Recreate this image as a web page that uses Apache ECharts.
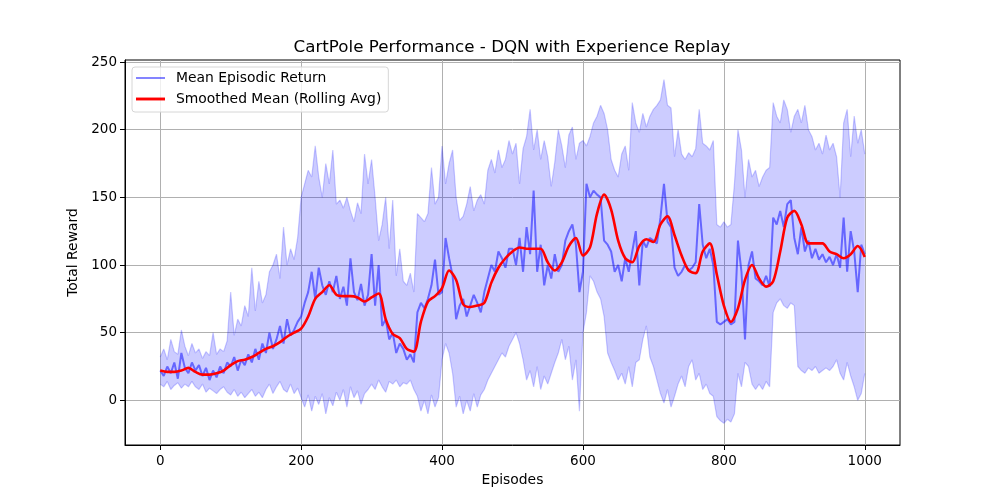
<!DOCTYPE html>
<html>
<head>
<meta charset="utf-8">
<script src="https://cdn.jsdelivr.net/npm/echarts@6.0.0/dist/echarts.min.js"></script>
<style>
  html, body { margin: 0; padding: 0; background: #fff; }
  #chart { width: 1000px; height: 500px; }
</style>
</head>
<body>
<div id="chart"></div>
<script>
// episodes sampled every 5 for the raw mean and band, every 10 for the rolling average
var BAND_STEP = 5;
var SMOOTH_STEP = 10;

var bandUpper = [
    32, 38, 30, 45, 36, 34, 52, 40, 33, 42,
    35, 38, 31, 36, 33, 50, 34, 38, 36, 44,
    80, 48, 60, 55, 70, 62, 98, 66, 88, 72,
    78, 95, 100, 108, 90, 128, 100, 112, 104, 120,
    150, 160, 170, 165, 188, 165, 150, 175, 160, 185,
    145, 148, 142, 150, 140, 132, 146, 138, 182, 160,
    178, 150, 118, 130, 150, 112, 148, 92, 112, 88,
    85, 94, 80, 138, 135, 132, 138, 172, 145, 150,
    188, 160, 175, 185, 150, 133, 136, 145, 158, 140,
    148, 152, 145, 170, 178, 168, 185, 172, 178, 192,
    182, 190, 160, 186, 195, 215, 185, 200, 178, 192,
    180, 158, 176, 200, 188, 172, 196, 202, 178, 190,
    192, 188, 195, 205, 210, 218, 212, 200, 178, 170,
    165, 182, 188, 170, 220, 205, 198, 212, 202, 210,
    215, 218, 222, 237, 218, 216, 180, 200, 182, 178,
    183, 180, 186, 215, 190, 188, 185, 192, 130, 128,
    132, 128, 130, 160, 200, 185, 150, 178, 165, 170,
    158, 165, 170, 172, 220, 210, 205, 222, 215, 198,
    210, 215, 205, 218, 200, 195, 185, 190, 182, 196,
    185, 190, 180, 150, 205, 215, 180, 210, 190, 200,
    182
];

var bandLower = [
    12, 10, 14, 8, 11, 13, 9, 12, 10, 14,
    10, 8, 12, 6, 9, 7, 5, 8, 10, 6,
    4, 8, 3, 6, 2, 5, 8, 3, 6, 2,
    8, 12, 5, 10, 14, 8, 6, 12, 5, 9,
    2, -5, 4, -8, 3, -3, 5, -10, 2, -4,
    6, 0, 8, -5, 10, 2, 7, -3, 5, 8,
    12, 8, 15, 10, 6, 14, 12, 15, 10, 13,
    12, 15, 8, 3, -8, 0, -10, 4, -5, 2,
    30, 42, 35, 20, -5, 3, -10, 0, -8, 5,
    -5, 4, 8, 15, 20, 25, 30, 35, 32, 40,
    45, 50, 42, 30, 15, 22, 10, 25, 8, 18,
    12, 20, 28, 35, 45, 30, 40, 15, 30, -8,
    50, 65, 92, 88, 80, 75, 62, 35, 28, 22,
    15, 20, 12, 25, 10, 28, 30, 45, 55, 32,
    25, 15, 5, -2, 8, -5, 3, 12, 18, 10,
    25, 30, 15, 20, 8, 12, 5, 3, -12, -15,
    -17, -14, -16, -10, 20, 10, 28, 25, 12, 8,
    12, 8, 14, 10, 65, 72, 75, 70, 68, 72,
    70, 25, 22, 20, 24, 22, 25, 20, 22, 24,
    22, 25, 30, 20, 15, 28, 18, 10, 0, 5,
    20
];

var meanReturn = [
    22, 18, 25, 20, 28, 16, 35, 24, 20, 28,
    22, 26, 18, 24, 15, 22, 17, 25, 20, 28,
    25, 32, 22, 30, 26, 34, 28, 38, 30, 42,
    35, 50, 38, 45, 55, 42, 60, 48, 52, 58,
    62, 72, 80, 95, 75, 98, 85, 78, 88, 80,
    92, 75, 84, 70, 105, 80, 74, 86, 70, 78,
    108, 70, 100, 55, 60, 45, 50, 35, 42, 38,
    30, 34, 28, 65, 72, 68, 75, 85, 104, 78,
    80, 120, 105, 92, 60, 70, 75, 62, 70, 78,
    72, 65, 80, 90, 100, 95, 110, 105, 98, 112,
    112, 100, 120, 95, 128, 108, 155, 95, 115, 85,
    100, 90, 108, 95, 100, 118, 125, 130, 115, 80,
    95, 160, 150, 155, 152, 150, 118, 115, 110, 95,
    100, 88, 105, 95, 110, 125, 85, 118, 113, 120,
    118, 116, 135, 160, 132, 128, 98, 92, 95, 100,
    96, 98, 102, 145, 115, 105, 112, 100, 58, 56,
    58, 60, 56, 58, 118, 95, 45, 100, 110, 90,
    88, 85, 92, 84, 135, 130, 140, 128, 145, 148,
    120, 108, 128, 110, 118, 105, 112, 104, 108, 102,
    106, 100, 108, 98, 135, 95, 125, 110, 80, 115,
    108
];

var smoothedMean = [
    22, 21, 21, 22, 24, 21, 19, 19, 20, 22,
    26, 29, 30, 32, 35, 38, 40, 43, 47, 50,
    53, 62, 75, 80, 85, 78, 77, 77, 76, 73,
    76, 79, 60, 49, 46, 38, 36, 58, 73, 77,
    83, 96, 89, 71, 69, 70, 72, 87, 98, 105,
    110, 113, 112, 112, 112, 102, 96, 102, 114, 120,
    107, 113, 138, 152, 141, 118, 105, 102, 114, 119,
    117, 130, 136, 122, 107, 96, 94, 110, 116, 93,
    70, 58, 68, 89, 100, 90, 84, 88, 110, 135,
    140, 130, 116, 116, 116, 110, 108, 105, 108, 114,
    106
];

var xTicks = [0, 200, 400, 600, 800, 1000];
var yTicks = [0, 50, 100, 150, 200, 250];

function pairs(values, step) {
    var out = [];
    for (var i = 0; i < values.length; i++) {
        out.push([i * step, values[i]]);
    }
    return out;
}

// fill between lower and upper, drawn once as one polygon through the axis scales
function renderBand(params, api) {
    if (params.dataIndex !== 0) return null;
    var pts = [];
    var i;
    for (i = 0; i < bandUpper.length; i++) {
        pts.push(api.coord([i * BAND_STEP, bandUpper[i]]));
    }
    for (i = bandLower.length - 1; i >= 0; i--) {
        pts.push(api.coord([i * BAND_STEP, bandLower[i]]));
    }
    return {
        type: 'polygon',
        shape: {points: pts},
        style: {fill: 'rgba(0,0,255,0.2)', stroke: null},
        silent: true
    };
}

var FONT = 'DejaVu Sans';
var chart = echarts.init(document.getElementById('chart'), null, {renderer: 'canvas'});

var option = {
    animation: false,
    backgroundColor: '#fff',
    title: {
        text: 'CartPole Performance - DQN with Experience Replay',
        left: 507,
        top: 34,
        textAlign: 'center',
        textStyle: {fontFamily: FONT, fontSize: 16.7, fontWeight: 'normal', color: '#000'}
    },
    legend: {
        left: 132,
        top: 67,
        orient: 'vertical',
        itemWidth: 29,
        itemHeight: 14,
        itemGap: 7,
        padding: [4, 7, 6, 4],
        backgroundColor: 'rgba(255,255,255,0.8)',
        borderColor: '#d6d6d6',
        borderWidth: 1,
        borderRadius: 3,
        textStyle: {fontFamily: FONT, fontSize: 13.9, color: '#000', padding: [0, 0, 0, 6]},
        data: [
            {name: 'Mean Episodic Return', icon: 'path://M0,0H30V2H0Z'},
            {name: 'Smoothed Mean (Rolling Avg)', icon: 'path://M0,0H30V3H0Z'}
        ]
    },
    grid: {
        left: 125, right: 100, top: 60, bottom: 55,
        show: true, borderColor: '#000', borderWidth: 1, backgroundColor: 'transparent'
    },
    xAxis: {
        type: 'value',
        min: -50,
        max: 1050,
        name: 'Episodes',
        nameLocation: 'middle',
        nameGap: 28,
        nameTextStyle: {fontFamily: FONT, fontSize: 13.9, color: '#000'},
        axisLine: {show: true, onZero: false, lineStyle: {color: '#000'}},
        axisTick: {show: true, length: 5, lineStyle: {color: '#000'}, customValues: xTicks},
        axisLabel: {
            fontFamily: FONT, fontSize: 13.5, color: '#000', margin: 9,
            customValues: xTicks,
            formatter: function (v) { return String(v); }
        },
        splitLine: {show: true, lineStyle: {color: '#b0b0b0', width: 1}}
    },
    yAxis: {
        type: 'value',
        min: -33,
        max: 251.5,
        name: 'Total Reward',
        nameLocation: 'middle',
        nameGap: 43,
        nameTextStyle: {fontFamily: FONT, fontSize: 13.9, color: '#000'},
        axisLine: {show: true, onZero: false, lineStyle: {color: '#000'}},
        axisTick: {show: true, length: 5, lineStyle: {color: '#000'}, customValues: yTicks},
        axisLabel: {
            fontFamily: FONT, fontSize: 13.5, color: '#000', margin: 8,
            customValues: yTicks,
            formatter: function (v) { return String(v); }
        },
        splitLine: {show: true, lineStyle: {color: '#b0b0b0', width: 1}}
    },
    series: [
        {
            name: 'band_fill',
            type: 'custom',
            data: [[0, 0]],
            renderItem: renderBand,
            silent: true,
            z: 1
        },
        {
            name: 'band_upper',
            type: 'line',
            data: pairs(bandUpper, BAND_STEP),
            symbol: 'none',
            silent: true,
            z: 2,
            lineStyle: {color: 'rgba(0,0,255,0.2)', width: 1.2}
        },
        {
            name: 'band_lower',
            type: 'line',
            data: pairs(bandLower, BAND_STEP),
            symbol: 'none',
            silent: true,
            z: 2,
            lineStyle: {color: 'rgba(0,0,255,0.2)', width: 1.2}
        },
        {
            name: 'Mean Episodic Return',
            type: 'line',
            data: pairs(meanReturn, BAND_STEP),
            symbol: 'none',
            z: 3,
            lineStyle: {color: 'rgba(0,0,255,0.5)', width: 2},
            itemStyle: {color: 'rgba(0,0,255,0.5)'}
        },
        {
            name: 'Smoothed Mean (Rolling Avg)',
            type: 'line',
            data: pairs(smoothedMean, SMOOTH_STEP),
            symbol: 'none',
            smooth: 0.3,
            z: 4,
            lineStyle: {color: '#ff0000', width: 2.6},
            itemStyle: {color: '#ff0000'}
        }
    ]
};
chart.setOption(option);
</script>
</body>
</html>
